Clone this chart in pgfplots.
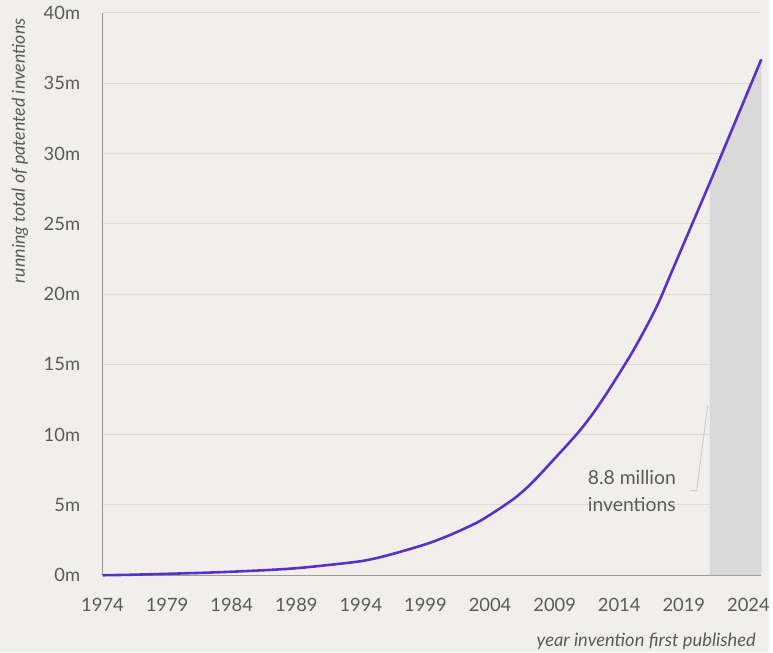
\documentclass[border=0pt]{standalone}
\usepackage{fontspec}
\setmainfont{Lato}
\usepackage{pgfplots}
\pgfplotsset{compat=1.18}
\definecolor{bg}{HTML}{F0EFEC}
\definecolor{txt}{HTML}{5A5A5A}
\definecolor{gridc}{HTML}{DCDBD8}
\definecolor{axc}{HTML}{9A9A9A}
\definecolor{shade}{HTML}{D9D9D9}
\definecolor{purp}{HTML}{5B30C9}
\begin{document}
\begin{tikzpicture}[x=1bp,y=1bp]
\fill[bg] (-103bp,-77bp) rectangle (670bp,578bp);
\begin{axis}[
  at={(0,0)}, anchor=south west,
  scale only axis, width=662bp, height=565bp,
  xmin=1974, xmax=2025, ymin=0, ymax=40,
  axis lines=left, axis line style={draw=axc, line width=1bp, -},
  xtick={1974,1979,...,2024},
  xticklabels={1974,1979,1984,1989,1994,1999,2004,2009,2014,2019,2024},
  ytick={0,5,...,40},
  yticklabels={0m,5m,10m,15m,20m,25m,30m,35m,40m},
  major tick length=0pt,
  ymajorgrids, grid style={draw=gridc, line width=1bp},
  tick label style={font=\fontsize{18.5}{21}\selectfont, text=txt},
  xticklabel style={yshift=-20bp},
  yticklabel style={xshift=-19bp},
  clip=false,
]
\addplot[fill=shade, draw=none] coordinates {
(2021,0) (2021,27.9) (2022,30.1) (2023,32.3) (2024,34.5) (2025,36.7) (2025,0)} -- cycle;
\addplot[purp, line width=2.6bp, line join=round, smooth, tension=0.5] coordinates {
(1974,0) (1976,0.03) (1979,0.1) (1982,0.18) (1984,0.25) (1987,0.38) (1989,0.5)
(1991,0.68) (1994,1.0) (1996,1.4) (1999,2.2) (2001,2.9) (2003,3.75) (2004,4.3)
(2005,4.9) (2006,5.55) (2007,6.35) (2008,7.3) (2009,8.3) (2010,9.3) (2011,10.35)
(2012,11.55) (2013,12.9) (2014,14.35) (2015,15.85) (2016,17.5) (2017,19.3)
(2018,21.45) (2019,23.6) (2020,25.75) (2021,27.9) (2022,30.1) (2023,32.3)
(2024,34.5) (2025,36.7)};
\draw[gridc!80!gray, line width=0.8bp] (axis cs:2019.54,6.02) -- (axis cs:2020.0,6.02) -- (axis cs:2020.85,12.1);
\node[anchor=west, align=left, text=txt, font=\fontsize{19.5}{27}\selectfont] at (axis cs:2011.3,6.0) {8.8 million\\inventions};
\node[rotate=90, anchor=east, text=txt, font=\fontsize{18}{20}\selectfont\itshape] at ([xshift=-83bp,yshift=-2bp]rel axis cs:0,1) {running total of patented inventions};
\node[anchor=east, text=txt, font=\fontsize{18.5}{20}\selectfont\itshape] at ([xshift=-2bp,yshift=-66bp]rel axis cs:1,0) {year invention first published};
\end{axis}
\end{tikzpicture}
\end{document}
